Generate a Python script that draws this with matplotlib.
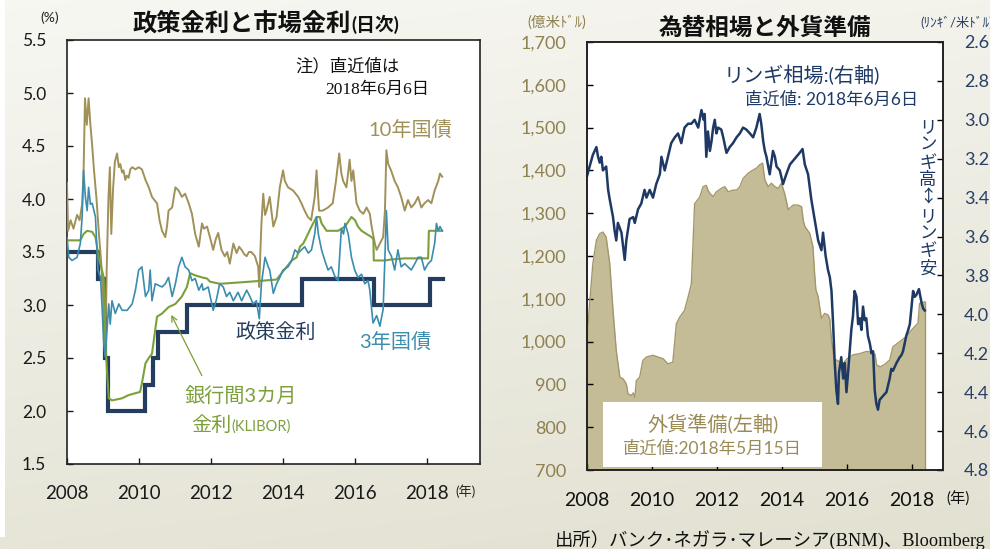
import matplotlib

matplotlib.use("Agg")
import matplotlib.pyplot as plt
import numpy as np
from matplotlib.patches import Rectangle

plt.rcParams["font.family"] = ["Lato", "Noto Sans CJK JP", "DejaVu Sans"]

# ---- left panel: rates (%) ----
yr10 = [2008.00, 2008.03, 2008.10, 2008.18, 2008.28, 2008.35, 2008.42, 2008.46, 2008.50, 2008.55,
        2008.60, 2008.65, 2008.70, 2008.75, 2008.82, 2008.88, 2008.95, 2009.00, 2009.06, 2009.10,
        2009.15, 2009.19, 2009.23, 2009.28, 2009.33, 2009.39, 2009.44, 2009.48, 2009.53, 2009.57,
        2009.62, 2009.66, 2009.71, 2009.76, 2009.81, 2009.90, 2009.99, 2010.08, 2010.18, 2010.27,
        2010.36, 2010.45, 2010.50, 2010.57, 2010.64, 2010.73, 2010.78, 2010.82, 2010.92, 2011.01,
        2011.10, 2011.19, 2011.28, 2011.38, 2011.47, 2011.56, 2011.66, 2011.75, 2011.80, 2011.89,
        2011.97, 2012.06, 2012.13, 2012.20, 2012.29, 2012.38, 2012.45, 2012.52, 2012.62, 2012.71,
        2012.78, 2012.85, 2012.92, 2012.99, 2013.05, 2013.12, 2013.22, 2013.31, 2013.34, 2013.37,
        2013.40, 2013.45, 2013.50, 2013.54, 2013.63, 2013.73, 2013.82, 2013.91, 2014.00, 2014.05,
        2014.14, 2014.28, 2014.42, 2014.51, 2014.60, 2014.69, 2014.78, 2014.88, 2014.93, 2015.00,
        2015.10, 2015.25, 2015.38, 2015.47, 2015.56, 2015.62, 2015.67, 2015.76, 2015.85, 2015.90,
        2015.95, 2016.04, 2016.13, 2016.23, 2016.32, 2016.41, 2016.46, 2016.55, 2016.60, 2016.69,
        2016.78, 2016.83, 2016.87, 2016.92, 2017.00, 2017.10, 2017.19, 2017.28, 2017.38, 2017.47,
        2017.56, 2017.66, 2017.75, 2017.84, 2017.93, 2018.03, 2018.12, 2018.21, 2018.31, 2018.36,
        2018.42]
jgb10 = [4.15, 3.70, 3.80, 3.72, 3.85, 3.80, 3.95, 4.25, 4.95, 4.70,
         4.95, 4.70, 4.50, 4.27, 4.00, 3.70, 3.40, 3.10, 2.60, 3.30,
         4.00, 4.30, 3.67, 4.10, 4.35, 4.43, 4.30, 4.33, 4.25, 4.27,
         4.18, 4.22, 4.20, 4.28, 4.30, 4.28, 4.30, 4.28, 4.18, 4.11,
         4.02, 3.98, 3.96, 3.80, 3.70, 3.64, 3.75, 3.89, 3.92, 4.11,
         4.08, 4.02, 4.05, 3.96, 3.86, 3.67, 3.55, 3.77, 3.72, 3.74,
         3.64, 3.52, 3.62, 3.68, 3.52, 3.46, 3.50, 3.39, 3.58, 3.49,
         3.55, 3.52, 3.48, 3.46, 3.50, 3.50, 3.46, 3.36, 3.17, 3.50,
         3.77, 4.05, 3.85, 3.89, 4.02, 3.74, 3.83, 4.11, 4.27, 4.17,
         4.11, 4.08, 4.02, 3.96, 3.89, 3.83, 3.80, 4.02, 4.27, 3.89,
         3.89, 3.92, 3.96, 4.17, 4.43, 4.24, 4.17, 4.11, 4.37, 4.17,
         4.27, 3.96, 3.89, 3.86, 3.92, 3.86, 3.74, 3.58, 3.52, 3.58,
         3.64, 3.89, 4.46, 4.33, 4.27, 4.17, 4.11, 4.02, 3.89, 3.99,
         3.92, 3.96, 4.02, 3.92, 3.96, 3.99, 3.96, 4.08, 4.17, 4.24,
         4.21]

yr3 = [2008.00, 2008.05, 2008.14, 2008.28, 2008.37, 2008.42, 2008.46, 2008.51, 2008.56, 2008.60,
       2008.65, 2008.70, 2008.79, 2008.86, 2008.93, 2008.97, 2009.02, 2009.06, 2009.11, 2009.16,
       2009.20, 2009.25, 2009.34, 2009.44, 2009.53, 2009.67, 2009.81, 2009.90, 2009.99, 2010.08,
       2010.18, 2010.27, 2010.31, 2010.36, 2010.45, 2010.64, 2010.73, 2010.82, 2010.92, 2011.01,
       2011.10, 2011.19, 2011.28, 2011.38, 2011.47, 2011.56, 2011.66, 2011.75, 2011.78, 2011.92,
       2012.06, 2012.15, 2012.24, 2012.34, 2012.43, 2012.52, 2012.62, 2012.75, 2012.85, 2012.99,
       2013.08, 2013.17, 2013.26, 2013.34, 2013.40, 2013.50, 2013.59, 2013.63, 2013.73, 2013.82,
       2013.91, 2014.00, 2014.14, 2014.24, 2014.33, 2014.42, 2014.51, 2014.60, 2014.70, 2014.79,
       2014.88, 2014.93, 2014.98, 2015.07, 2015.16, 2015.25, 2015.34, 2015.44, 2015.53, 2015.57,
       2015.62, 2015.68, 2015.72, 2015.81, 2015.90, 2015.99, 2016.08, 2016.18, 2016.27, 2016.36,
       2016.41, 2016.46, 2016.50, 2016.60, 2016.69, 2016.78, 2016.83, 2016.87, 2016.92, 2017.01,
       2017.10, 2017.19, 2017.28, 2017.38, 2017.47, 2017.56, 2017.66, 2017.75, 2017.84, 2017.93,
       2018.03, 2018.12, 2018.21, 2018.26, 2018.31, 2018.36, 2018.42]
jgb3 = [3.64, 3.45, 3.42, 3.45, 3.58, 3.83, 4.27, 4.02, 3.89, 4.11,
        3.95, 3.96, 3.83, 3.33, 3.26, 3.01, 2.64, 2.51, 2.76, 3.01,
        2.82, 3.04, 2.92, 3.01, 2.95, 2.95, 3.01, 3.14, 3.33, 3.36,
        3.08, 3.14, 3.33, 3.04, 3.20, 3.17, 3.20, 3.26, 3.08, 3.20,
        3.36, 3.45, 3.36, 3.33, 3.23, 3.25, 3.14, 3.20, 3.14, 3.17,
        2.95, 3.05, 3.20, 3.17, 3.08, 3.12, 3.04, 3.12, 3.04, 3.14,
        3.08, 3.01, 3.04, 2.87, 3.20, 3.45, 3.36, 3.33, 3.11, 3.20,
        3.26, 3.33, 3.36, 3.42, 3.52, 3.49, 3.52, 3.55, 3.49, 3.52,
        3.67, 3.83, 3.67, 3.52, 3.42, 3.33, 3.36, 3.27, 3.23, 3.45,
        3.72, 3.67, 3.77, 3.67, 3.45, 3.33, 3.26, 3.29, 3.20, 3.23,
        3.14, 2.96, 2.83, 2.90, 2.80, 2.96, 3.45, 3.89, 3.52, 3.46,
        3.33, 3.52, 3.36, 3.39, 3.36, 3.33, 3.39, 3.45, 3.45, 3.33,
        3.39, 3.42, 3.58, 3.77, 3.70, 3.74, 3.70]

yr_klibor = [2008.00, 2008.37, 2008.46, 2008.56, 2008.70, 2008.79, 2008.88, 2008.97, 2009.02, 2009.06,
             2009.11, 2009.16, 2009.25, 2009.53, 2009.71, 2010.03, 2010.08, 2010.18, 2010.27, 2010.36,
             2010.50, 2010.64, 2010.82, 2011.01, 2011.19, 2011.33, 2011.42, 2011.56, 2011.75, 2011.89,
             2011.97, 2012.25, 2013.08, 2013.82, 2013.96, 2014.10, 2014.24, 2014.38, 2014.47, 2014.56,
             2014.65, 2014.79, 2014.93, 2015.02, 2015.07, 2015.21, 2015.40, 2015.53, 2015.72, 2015.90,
             2016.00, 2016.08, 2016.18, 2016.32, 2016.46, 2016.51, 2016.52, 2016.83, 2017.01, 2017.38,
             2017.75, 2018.03, 2018.05, 2018.42]
klibor = [3.61, 3.61, 3.67, 3.70, 3.69, 3.64, 3.45, 3.33, 3.26, 2.70,
          2.38, 2.12, 2.10, 2.12, 2.15, 2.18, 2.26, 2.45, 2.50, 2.54,
          2.89, 2.92, 2.98, 3.01, 3.08, 3.17, 3.30, 3.28, 3.26, 3.25,
          3.22, 3.20, 3.22, 3.24, 3.30, 3.36, 3.42, 3.45, 3.55, 3.58,
          3.64, 3.74, 3.83, 3.83, 3.77, 3.70, 3.70, 3.70, 3.74, 3.83,
          3.80, 3.74, 3.70, 3.67, 3.64, 3.62, 3.42, 3.42, 3.43, 3.44,
          3.44, 3.44, 3.70, 3.70]

yr_opr = [2008.00, 2008.87, 2009.05, 2009.13, 2010.17, 2010.38, 2010.53, 2011.34, 2014.52, 2016.53,
          2018.07, 2018.43]
opr = [3.50, 3.25, 2.50, 2.00, 2.25, 2.50, 2.75, 3.00, 3.25, 3.00, 3.25, 3.25]

rate_ticks = [1.5, 2.0, 2.5, 3.0, 3.5, 4.0, 4.5, 5.0, 5.5]
year_ticks = [2008, 2010, 2012, 2014, 2016, 2018]

# ---- right panel: reserves (100m USD) and USD/MYR ----
yr_res = [2008.00, 2008.08, 2008.18, 2008.29, 2008.39, 2008.49, 2008.59, 2008.70, 2008.80, 2008.90,
          2009.01, 2009.11, 2009.21, 2009.26, 2009.36, 2009.42, 2009.47, 2009.52, 2009.62, 2009.72,
          2009.83, 2010.03, 2010.18, 2010.34, 2010.49, 2010.64, 2010.75, 2010.85, 2011.00, 2011.11,
          2011.21, 2011.31, 2011.47, 2011.57, 2011.67, 2011.72, 2011.78, 2011.88, 2011.98, 2012.13,
          2012.24, 2012.34, 2012.49, 2012.60, 2012.70, 2012.80, 2012.95, 2013.11, 2013.21, 2013.31,
          2013.40, 2013.47, 2013.57, 2013.67, 2013.78, 2013.88, 2013.98, 2014.08, 2014.19, 2014.24,
          2014.34, 2014.49, 2014.60, 2014.65, 2014.70, 2014.85, 2014.95, 2015.00, 2015.04, 2015.11,
          2015.21, 2015.31, 2015.42, 2015.47, 2015.52, 2015.60, 2015.67, 2015.88, 2016.00, 2016.18,
          2016.39, 2016.60, 2016.80, 2016.86, 2016.91, 2017.02, 2017.16, 2017.31, 2017.41, 2017.62,
          2017.82, 2017.98, 2018.18, 2018.23, 2018.39]
reserves = [1010, 1088, 1182, 1237, 1252, 1256, 1244, 1182, 1073, 979,
            917, 913, 901, 878, 874, 880, 870, 909, 917, 956,
            964, 968, 964, 960, 948, 952, 1042, 1057, 1073, 1104,
            1135, 1322, 1338, 1362, 1365, 1354, 1346, 1339, 1350, 1358,
            1362, 1350, 1354, 1354, 1362, 1381, 1393, 1401, 1405, 1413,
            1417, 1378, 1362, 1370, 1362, 1358, 1370, 1346, 1308, 1312,
            1319, 1319, 1315, 1284, 1269, 1253, 1222, 1160, 1121, 1105,
            1054, 1066, 1062, 1051, 1004, 960, 957, 949, 960, 969,
            972, 977, 975, 970, 945, 941, 947, 957, 988, 1000,
            1012, 1027, 1043, 1089, 1093]

yr_myr = [2008.00, 2008.08, 2008.18, 2008.29, 2008.34, 2008.39, 2008.44, 2008.49, 2008.59, 2008.65,
          2008.70, 2008.80, 2008.85, 2008.90, 2008.95, 2009.06, 2009.16, 2009.21, 2009.31, 2009.42,
          2009.47, 2009.57, 2009.67, 2009.77, 2009.83, 2009.93, 2010.03, 2010.13, 2010.24, 2010.29,
          2010.39, 2010.49, 2010.59, 2010.70, 2010.80, 2010.90, 2011.00, 2011.11, 2011.21, 2011.31,
          2011.42, 2011.52, 2011.59, 2011.62, 2011.67, 2011.72, 2011.78, 2011.83, 2011.88, 2011.93,
          2011.98, 2012.03, 2012.13, 2012.19, 2012.29, 2012.39, 2012.49, 2012.60, 2012.70, 2012.80,
          2012.90, 2013.01, 2013.11, 2013.21, 2013.31, 2013.36, 2013.42, 2013.47, 2013.52, 2013.62,
          2013.72, 2013.78, 2013.83, 2013.93, 2014.03, 2014.13, 2014.24, 2014.34, 2014.44, 2014.54,
          2014.63, 2014.70, 2014.80, 2014.90, 2015.01, 2015.11, 2015.21, 2015.26, 2015.34, 2015.41,
          2015.47, 2015.52, 2015.57, 2015.62, 2015.67, 2015.72, 2015.75, 2015.82, 2015.88, 2015.93,
          2015.98, 2016.03, 2016.08, 2016.13, 2016.18, 2016.23, 2016.29, 2016.34, 2016.39, 2016.44,
          2016.49, 2016.54, 2016.59, 2016.64, 2016.70, 2016.75, 2016.80, 2016.85, 2016.90, 2016.95,
          2017.00, 2017.10, 2017.21, 2017.31, 2017.36, 2017.41, 2017.52, 2017.62, 2017.67, 2017.72,
          2017.82, 2017.88, 2017.93, 2018.03, 2018.08, 2018.13, 2018.21, 2018.29, 2018.34, 2018.39]
myr = [3.29, 3.24, 3.18, 3.14, 3.19, 3.22, 3.19, 3.26, 3.24, 3.36,
       3.41, 3.50, 3.57, 3.62, 3.53, 3.58, 3.72, 3.62, 3.51, 3.50,
       3.53, 3.46, 3.43, 3.36, 3.40, 3.36, 3.40, 3.33, 3.28, 3.19,
       3.26, 3.19, 3.12, 3.09, 3.07, 3.12, 3.04, 3.02, 3.02, 3.00,
       3.04, 2.95, 3.00, 2.97, 3.19, 3.06, 3.16, 3.11, 3.04, 3.00,
       3.07, 3.04, 3.05, 3.09, 3.17, 3.14, 3.12, 3.09, 3.07, 3.04,
       3.05, 3.07, 3.09, 3.04, 2.97, 3.02, 3.11, 3.16, 3.19, 3.28,
       3.16, 3.19, 3.24, 3.26, 3.33, 3.28, 3.23, 3.21, 3.19, 3.17,
       3.15, 3.23, 3.28, 3.41, 3.52, 3.62, 3.67, 3.58, 3.70, 3.77,
       3.81, 3.88, 4.05, 4.25, 4.39, 4.46, 4.30, 4.22, 4.33, 4.25,
       4.40, 4.30, 4.19, 4.08, 4.01, 3.88, 3.91, 4.05, 4.02, 4.08,
       3.96, 4.03, 4.02, 4.11, 4.15, 4.20, 4.19, 4.39, 4.46, 4.49,
       4.44, 4.42, 4.40, 4.33, 4.28, 4.29, 4.25, 4.22, 4.21, 4.19,
       4.11, 4.08, 4.05, 3.88, 3.91, 3.90, 3.87, 3.94, 3.97, 3.98]

res_ticks = [700, 800, 900, 1000, 1100, 1200, 1300, 1400, 1500, 1600, 1700]
myr_ticks = [2.6, 2.8, 3.0, 3.2, 3.4, 3.6, 3.8, 4.0, 4.2, 4.4, 4.6, 4.8]

KHAKI = "#A09159"
TEAL = "#3A8DAE"
GREEN = "#7BA03A"
NAVY = "#243D5E"
FX_NAVY = "#1E3A64"
FILL = "#C4BC96"
FILL_EDGE = "#A3976A"
AXIS_KHAKI = "#8E8150"

W, H = 990, 549


def fx(px):
    return px / W


def fy(py):
    return 1 - py / H


fig = plt.figure(figsize=(W / 100, H / 100), dpi=100)

# background gradient
bg = fig.add_axes([0, 0, 1, 1], zorder=-10)
gy, gx = np.mgrid[0:1:200j, 0:1:200j]
t = np.clip(0.8 * gy + 0.2 * gx, 0, 1)[..., None]
top = np.array([0.970, 0.970, 0.950])
bot = np.array([0.885, 0.880, 0.820])
bg.imshow(top * (1 - t) + bot * t, extent=[0, 1, 0, 1], aspect="auto", origin="upper")
bg.add_patch(Rectangle((0, fy(537)), fx(5), 1 - fy(537), color="white", lw=0))
bg.set_xlim(0, 1)
bg.set_ylim(0, 1)
bg.axis("off")

# ---------------- left panel ----------------
ax1 = fig.add_axes([fx(67), fy(464), fx(480) - fx(67), fy(40) - fy(464)])
ax1.step(yr_opr, opr, where="post", color=NAVY, lw=3.0, solid_joinstyle="miter", zorder=2)
ax1.plot(yr10, jgb10, color=KHAKI, lw=1.4, zorder=3)
ax1.plot(yr_klibor, klibor, color=GREEN, lw=1.5, zorder=4)
ax1.plot(yr3, jgb3, color=TEAL, lw=1.2, zorder=5)
ax1.set_xlim(2008, 2019.47)
ax1.set_ylim(1.5, 5.5)
ax1.set_yticks(rate_ticks)
ax1.set_yticklabels([f"{v:.1f}" for v in rate_ticks])
ax1.set_xticks(year_ticks)
ax1.tick_params(axis="y", direction="in", length=4.5, width=1, pad=15, labelsize=12.5, colors="#1a1a1a")
ax1.tick_params(axis="x", direction="in", length=4.5, width=1, pad=15, labelsize=13.5, colors="#1a1a1a")
for s in ax1.spines.values():
    s.set_linewidth(1.2)
    s.set_color("#222222")

ax1.annotate("", xy=(2010.86, 2.93), xytext=(2011.78, 2.31),
             arrowprops=dict(arrowstyle="->", color=GREEN, lw=0.9))

fig.text(fx(133), fy(31), "政策金利と市場金利", ha="left", va="baseline", fontsize=17.5,
         fontweight="bold", color="#111111")
fig.text(fx(351), fy(31), "(日次)", ha="left", va="baseline", fontsize=13.5,
         fontweight="bold", color="#111111")
fig.text(fx(50), fy(18), "(%)", ha="center", va="center", fontsize=10, color="#222222")
fig.text(fx(465), fy(491), "(年)", ha="center", va="center", fontsize=9.5, color="#222222")
fig.text(fx(295), fy(66), "注）直近値は", ha="left", va="center", fontsize=12.5, color="#111111")
fig.text(fx(325), fy(90), "2018年6月6日", ha="left", va="center", fontsize=12.5, color="#111111",
         family=["Liberation Serif", "Noto Sans CJK JP"])
fig.text(fx(410), fy(130), "10年国債", ha="center", va="center", fontsize=14.5, color=KHAKI)
fig.text(fx(276), fy(332), "政策金利", ha="center", va="center", fontsize=14.5, color=NAVY)
fig.text(fx(395), fy(342), "3年国債", ha="center", va="center", fontsize=14.5, color=TEAL)
fig.text(fx(241), fy(396), "銀行間3カ月", ha="center", va="center", fontsize=14.5, color=GREEN)
fig.text(fx(231), fy(431), "金利", ha="right", va="baseline", fontsize=14.5, color=GREEN)
fig.text(fx(231), fy(431), "(KLIBOR)", ha="left", va="baseline", fontsize=10.5, color=GREEN)

# ---------------- right panel ----------------
ax2 = fig.add_axes([fx(587), fy(470), fx(943) - fx(587), fy(42) - fy(470)])
ax2.fill_between(yr_res, reserves, 700, color=FILL, lw=0, zorder=1)
ax2.plot(yr_res, reserves, color=FILL_EDGE, lw=1.0, zorder=2)
ax2.plot([yr_res[-1], yr_res[-1]], [700, reserves[-1]], color=FILL_EDGE, lw=1.0, zorder=2)
ax2.set_xlim(2008, 2018.95)
ax2.set_ylim(700, 1700)
ax2.set_yticks(res_ticks)
ax2.set_yticklabels([f"{v:,}" for v in res_ticks])
ax2.set_xticks(year_ticks)
ax2.tick_params(axis="y", direction="in", length=4.5, width=1, pad=15, labelsize=13, labelcolor=AXIS_KHAKI)
ax2.tick_params(axis="x", direction="in", length=4.5, width=1, pad=16, labelsize=14, labelcolor="#111111")
for s in ax2.spines.values():
    s.set_linewidth(1.2)
    s.set_color("#222222")

ax2.add_patch(Rectangle((fx(603), fy(467)), fx(822) - fx(603), fy(402) - fy(467),
                        transform=fig.transFigure, facecolor="white", edgecolor="none", zorder=3))

ax2r = ax2.twinx()
ax2r.plot(yr_myr, myr, color=FX_NAVY, lw=1.8)
ax2r.set_ylim(4.8, 2.6)
ax2r.set_yticks(myr_ticks)
ax2r.set_yticklabels([f"{v:.1f}" for v in myr_ticks])
ax2r.tick_params(axis="y", direction="in", length=4.5, width=1, pad=15, labelsize=13, labelcolor="#2A4066")
for s in ax2r.spines.values():
    s.set_linewidth(1.2)
    s.set_color("#222222")

fig.text(fx(765), fy(27), "為替相場と外貨準備", ha="center", va="center", fontsize=17,
         fontweight="bold", color="#111111")
fig.text(fx(557), fy(22), "(億米ﾄﾞﾙ)", ha="center", va="center", fontsize=10.5, color=AXIS_KHAKI)
fig.text(fx(920), fy(22), "(ﾘﾝｷﾞ/米ﾄﾞﾙ)", ha="left", va="center", fontsize=9.5, color="#2A4066")
fig.text(fx(958), fy(499), "(年)", ha="center", va="center", fontsize=11, color="#111111")
fig.text(fx(802), fy(75), "リンギ相場:(右軸)", ha="center", va="center", fontsize=14.5, color=FX_NAVY)
fig.text(fx(832), fy(100), "直近値: 2018年6月6日", ha="center", va="center", fontsize=12.5, color=FX_NAVY)
fig.text(fx(928), fy(198), "\n".join("リンギ高↕リンギ安"), ha="center", va="center", fontsize=12.5,
         linespacing=0.98, color=FX_NAVY, family=["Noto Sans CJK JP", "DejaVu Sans"])
fig.text(fx(713), fy(424), "外貨準備(左軸)", ha="center", va="center", fontsize=14.5, color="#9A8B55")
fig.text(fx(712), fy(449), "直近値:2018年5月15日", ha="center", va="center", fontsize=12.5, color="#9A8B55")

fig.text(fx(555), fy(540), "出所）バンク･ネガラ･マレーシア(BNM)、Bloomberg", ha="left", va="center",
         fontsize=13.2, color="#111111", family=["Liberation Serif", "Noto Sans CJK JP"])

fig.savefig("out.png", dpi=100)
